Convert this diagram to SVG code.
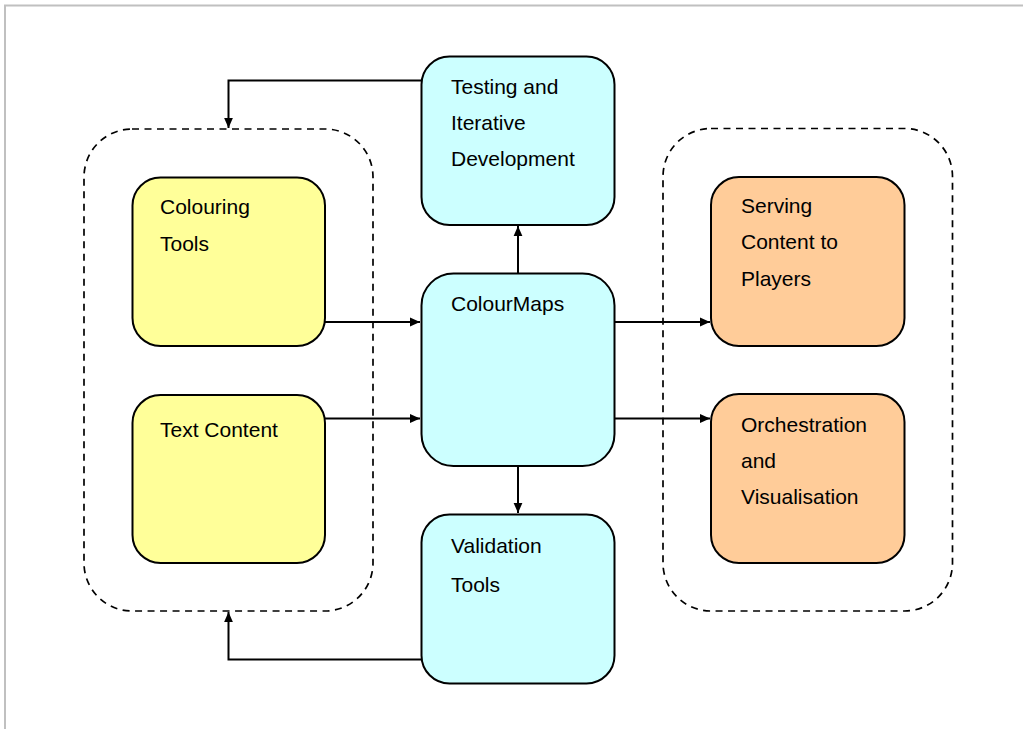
<svg xmlns="http://www.w3.org/2000/svg" width="1023" height="729" viewBox="0 0 1023 729">
<defs>
<style>
.frame{fill:none;stroke:#c0c0c0;stroke-width:2}
.group{fill:none;stroke:#000;stroke-width:1.7;stroke-dasharray:7 5.5}
.box{stroke:#000;stroke-width:2}
.yellow{fill:#ffff99}
.cyan{fill:#ccffff}
.orange{fill:#ffcc99}
.lbl{font-family:"Liberation Sans",Arial,sans-serif;font-size:21px;fill:#000}
.conn{fill:none;stroke:#000;stroke-width:2}
</style>
<marker id="arr" viewBox="0 0 10 10" refX="10" refY="5" markerWidth="10" markerHeight="10" markerUnits="userSpaceOnUse" orient="auto">
<path d="M0,0.6 L10,5 L0,9.4 Z" fill="#000"/>
</marker>
</defs>
<rect x="0" y="0" width="1023" height="729" fill="#fff"/>
<path class="frame" d="M5,729 V5.5 H1023"/>
<g id="group-left"><rect class="group" x="84" y="129" width="289" height="482" rx="48"/></g>
<g id="group-right"><rect class="group" x="663" y="128.5" width="289.5" height="482.5" rx="48"/></g>
<g id="connectors">
<path class="conn" d="M421,80.5 H228.5 V128" marker-end="url(#arr)"/>
<path class="conn" d="M421,659.5 H228.5 V612" marker-end="url(#arr)"/>
<path class="conn" d="M325,322 H420" marker-end="url(#arr)"/>
<path class="conn" d="M325,418.5 H420" marker-end="url(#arr)"/>
<path class="conn" d="M518,273 V226" marker-end="url(#arr)"/>
<path class="conn" d="M518,466 V513" marker-end="url(#arr)"/>
<path class="conn" d="M615,322 H710" marker-end="url(#arr)"/>
<path class="conn" d="M615,418.5 H710" marker-end="url(#arr)"/>
</g>
<g id="testing">
<rect class="box cyan" x="421.5" y="56.5" width="193" height="168.5" rx="28"/>
<text class="lbl" x="451" y="93.5">Testing and</text>
<text class="lbl" x="451" y="129.5">Iterative</text>
<text class="lbl" x="451" y="165.5">Development</text>
</g>
<g id="colouring-tools">
<rect class="box yellow" x="132.5" y="177.5" width="192.5" height="168.5" rx="28"/>
<text class="lbl" x="160" y="213.5">Colouring</text>
<text class="lbl" x="160" y="250.5">Tools</text>
</g>
<g id="text-content">
<rect class="box yellow" x="132.5" y="395" width="192.5" height="168" rx="28"/>
<text class="lbl" x="160" y="436.5">Text Content</text>
</g>
<g id="colourmaps">
<rect class="box cyan" x="421.5" y="273.5" width="193" height="192.5" rx="32"/>
<text class="lbl" x="451" y="310.5">ColourMaps</text>
</g>
<g id="validation">
<rect class="box cyan" x="421.5" y="514.5" width="193" height="169" rx="28"/>
<text class="lbl" x="451" y="552.5">Validation</text>
<text class="lbl" x="451" y="591.5">Tools</text>
</g>
<g id="serving">
<rect class="box orange" x="711" y="177" width="193.5" height="169" rx="28"/>
<text class="lbl" x="741" y="212.7">Serving</text>
<text class="lbl" x="741" y="249.3">Content to</text>
<text class="lbl" x="741" y="286">Players</text>
</g>
<g id="orchestration">
<rect class="box orange" x="711" y="394" width="193.5" height="169" rx="28"/>
<text class="lbl" x="741" y="431.7">Orchestration</text>
<text class="lbl" x="741" y="467.5">and</text>
<text class="lbl" x="741" y="504">Visualisation</text>
</g>
</svg>
